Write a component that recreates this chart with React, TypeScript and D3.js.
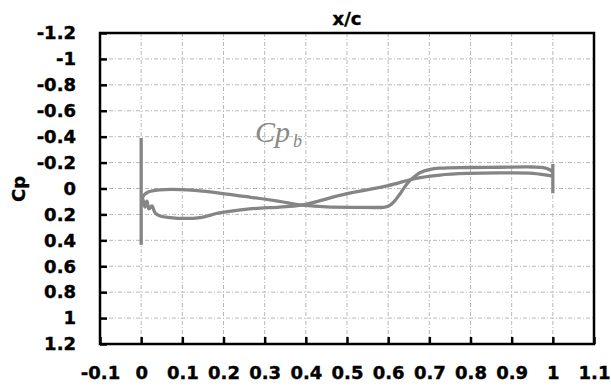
import React, { useEffect, useRef } from 'react';
import * as d3 from 'd3';

// surface 1 (front part near Cp 0, then plateau and rise past x/c 0.6)
const upperX = [0.001, 0.007, 0.017, 0.034, 0.058, 0.094, 0.13, 0.19, 0.263, 0.336, 0.385, 0.45, 0.52, 0.592, 0.604, 0.616, 0.629, 0.641, 0.653, 0.665, 0.677, 0.702, 0.726, 0.792, 0.871, 0.951, 0.98, 0.993, 1.0];
const upperCp = [0.089, 0.05, 0.027, 0.015, 0.008, 0.008, 0.015, 0.035, 0.066, 0.1, 0.127, 0.142, 0.145, 0.143, 0.13, 0.095, 0.04, -0.015, -0.062, -0.095, -0.122, -0.148, -0.157, -0.162, -0.164, -0.166, -0.16, -0.145, -0.125];

// surface 2 (with wiggles at the leading edge, then rising line)
const lowerX = [0.001, 0.004, 0.009, 0.014, 0.019, 0.026, 0.034, 0.046, 0.07, 0.106, 0.143, 0.19, 0.263, 0.336, 0.385, 0.5, 0.6, 0.665, 0.726, 0.792, 0.871, 0.951, 1.0];
const lowerCp = [0.127, 0.081, 0.143, 0.097, 0.158, 0.135, 0.189, 0.212, 0.224, 0.231, 0.224, 0.189, 0.158, 0.143, 0.131, 0.04, -0.022, -0.077, -0.104, -0.116, -0.12, -0.117, -0.096];

// vertical spikes at leading and trailing edge
const leX = [0, 0];
const leCp = [-0.39, 0.435];
const teX = [1, 1];
const teCp = [-0.19, 0.037];

const xTicks = [-0.1, 0, 0.1, 0.2, 0.3, 0.4, 0.5, 0.6, 0.7, 0.8, 0.9, 1, 1.1];
const yTicks = [-1.2, -1, -0.8, -0.6, -0.4, -0.2, 0, 0.2, 0.4, 0.6, 0.8, 1, 1.2];

const W = 611;
const H = 387;
const margin = { top: 33, right: 17, bottom: 43, left: 100 };
const FONT = '"DejaVu Sans", sans-serif';

const App = () => {
  const svgRef = useRef<SVGSVGElement>(null);

  useEffect(() => {
    const root = d3.select(svgRef.current);
    root.selectAll('*').remove();

    const width = W - margin.left - margin.right;
    const height = H - margin.top - margin.bottom;

    const x = d3.scaleLinear().domain([-0.1, 1.1]).range([0, width]);
    const y = d3.scaleLinear().domain([-1.2, 1.2]).range([0, height]);

    const svg = root.append('g').attr('transform', `translate(${margin.left},${margin.top})`);

    // grid
    svg.append('g')
      .selectAll('line')
      .data(xTicks.slice(1, -1))
      .enter()
      .append('line')
      .attr('x1', d => x(d)).attr('x2', d => x(d))
      .attr('y1', 0).attr('y2', height)
      .attr('stroke', '#b8b8b8').attr('stroke-width', 1)
      .attr('stroke-dasharray', '4,2,1,2');
    svg.append('g')
      .selectAll('line')
      .data(yTicks.slice(1, -1))
      .enter()
      .append('line')
      .attr('x1', 0).attr('x2', width)
      .attr('y1', d => y(d)).attr('y2', d => y(d))
      .attr('stroke', '#b8b8b8').attr('stroke-width', 1)
      .attr('stroke-dasharray', '4,2,1,2');

    // axes (ticks inward)
    const yAxis = svg.append('g')
      .call(d3.axisLeft(y).tickValues(yTicks).tickSize(-7).tickPadding(24).tickFormat(d => String(d)));
    yAxis.select('.domain').remove();
    yAxis.selectAll('line').attr('stroke', '#000').attr('stroke-width', 2.5);
    yAxis.selectAll('text')
      .attr('font-family', FONT).attr('font-weight', 'bold').attr('font-size', 18).attr('fill', '#000')
      .attr('stroke', '#000').attr('stroke-width', 0.4);

    const xAxis = svg.append('g')
      .attr('transform', `translate(0,${height})`)
      .call(d3.axisBottom(x).tickValues(xTicks).tickSize(-7).tickPadding(22).tickFormat(d => String(d)));
    xAxis.select('.domain').remove();
    xAxis.selectAll('line').attr('stroke', '#000').attr('stroke-width', 2.5);
    xAxis.selectAll('text')
      .attr('font-family', FONT).attr('font-weight', 'bold').attr('font-size', 18).attr('fill', '#000')
      .attr('stroke', '#000').attr('stroke-width', 0.4);

    // frame
    svg.append('rect')
      .attr('x', 0).attr('y', 0).attr('width', width).attr('height', height)
      .attr('fill', 'none').attr('stroke', '#000').attr('stroke-width', 2.5);

    // curves
    const line = d3.line<[number, number]>()
      .x(d => x(d[0]))
      .y(d => y(d[1]))
      .curve(d3.curveCatmullRom.alpha(0.5));

    const series = [
      d3.zip(upperX, upperCp),
      d3.zip(lowerX, lowerCp),
      d3.zip(leX, leCp),
      d3.zip(teX, teCp),
    ] as [number, number][][];

    svg.append('g')
      .selectAll('path')
      .data(series)
      .enter()
      .append('path')
      .attr('d', d => line(d))
      .attr('fill', 'none')
      .attr('stroke', '#858585')
      .attr('stroke-width', 3.3)
      .attr('stroke-linejoin', 'round');

    // annotation
    const ann = root.append('text')
      .attr('x', 255).attr('y', 142)
      .attr('font-family', '"Liberation Serif", serif')
      .attr('font-style', 'italic')
      .attr('font-size', 30)
      .attr('fill', '#8a8a8a');
    ann.append('tspan').text('Cp');
    ann.append('tspan').attr('x', 293).attr('y', 147).attr('font-size', 18).text('b');

    // titles
    root.append('text')
      .attr('x', margin.left + width / 2).attr('y', 25)
      .attr('text-anchor', 'middle')
      .attr('font-family', FONT).attr('font-weight', 'bold').attr('font-size', 18)
      .attr('stroke', '#000').attr('stroke-width', 0.4)
      .text('x/c');

    root.append('text')
      .attr('transform', 'translate(25,189) rotate(-90)')
      .attr('text-anchor', 'middle')
      .attr('font-family', FONT).attr('font-weight', 'bold').attr('font-size', 18)
      .attr('stroke', '#000').attr('stroke-width', 0.4)
      .text('Cp');
  }, []);

  return (
    <svg
      ref={svgRef}
      width={W}
      height={H}
      style={{ position: 'absolute', left: 0, top: 0, background: '#fff' }}
    />
  );
};

export default App;
